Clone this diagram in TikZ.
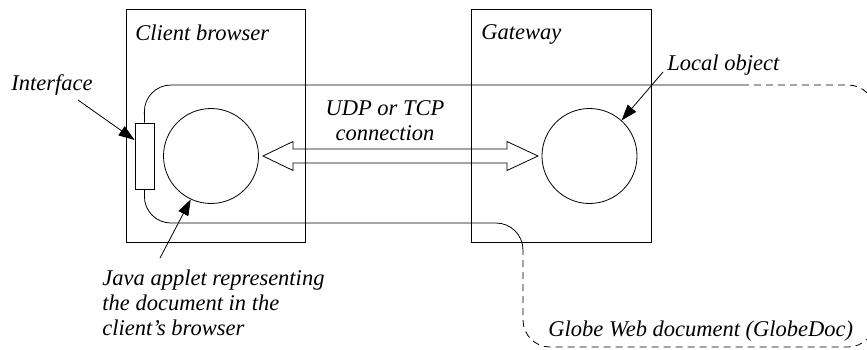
\documentclass[tikz,border=0pt]{standalone}
\usepackage{fontspec}
\setmainfont{Liberation Serif}[ItalicFont={Liberation Serif Italic}]
\usetikzlibrary{arrows.meta}
\begin{document}
\begin{tikzpicture}[x=1pt,y=-1pt,
  line width=0.9pt,
  lbl/.style={font=\fontsize{22.5}{25}\selectfont\itshape, inner sep=0pt},
  ptr/.style={-{Triangle[length=16pt,width=11pt]}, line width=0.8pt},
  dsh/.style={dash pattern=on 7pt off 5pt},
  rc/.style={rounded corners=27pt}]
\useasboundingbox (0,0) rectangle (867,349);
\clip (0,0) rectangle (867,349);
% boxes
\draw (126,9) rectangle (305,242);
\draw (471,9) rectangle (651,242);
% interface
\node[draw, minimum width=19pt, minimum height=66pt, inner sep=0pt, line width=0.8pt] (iface) at (144.5,156) {};
% objects
\node[draw, circle, minimum size=95pt, inner sep=0pt, line width=0.8pt] (app) at (211,156) {};
\node[draw, circle, minimum size=95pt, inner sep=0pt, line width=0.8pt] (loc) at (589.5,156) {};
% GlobeDoc outline
\coordinate (s1) at (742,85);
\coordinate (s2) at (523,252);
\draw[rc, line width=0.8pt] (s1) -- (144,85) -- (iface.north);
\draw[rc, line width=0.8pt] (iface.south) -- (144,223) -- (523,223) -- (s2);
\draw[rc, dsh, line width=0.8pt] (s1) -- (875,85) -- (875,347) -- (523,347) -- (s2);
% connection arrow
\draw[line width=0.8pt] (263,156) -- (293,141.5) -- (293,149) -- (507,149) -- (507,141.5) -- (538,156)
  -- (507,170.5) -- (507,163) -- (293,163) -- (293,170.5) -- cycle;
% labels
\node[lbl, anchor=base west] (tcb) at (135,40) {Client browser};
\node[lbl, anchor=base west] (tgw) at (481,39) {Gateway};
\node[lbl, anchor=base west] (tif) at (11,90) {Interface};
\node[lbl, anchor=base west] (tlo) at (667,70) {Local object};
\node[lbl, align=center, anchor=center] (tud) at (385,121) {UDP or TCP\\connection};
\node[lbl, align=left, anchor=north west] (tja) at (102,269) {Java applet representing\\the document in the\\client's browser};
\node[lbl, anchor=base west] (tgd) at (548,336) {Globe Web document (GlobeDoc)};
% pointers
\coordinate (ia) at (78,100);
\coordinate (ja) at (160,258);
\coordinate (la) at (663,72);
\draw[ptr] (ia) -- (iface.west |- 0,140);
\draw[ptr] (ja) -- (app.-115);
\draw[ptr] (la) -- (loc.48);
\end{tikzpicture}
\end{document}
